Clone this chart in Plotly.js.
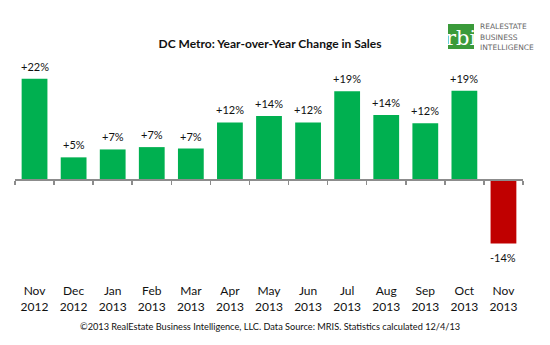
<!DOCTYPE html>
<html>
<head>
<meta charset="utf-8">
<script src="https://cdn.plot.ly/plotly-3.0.1.min.js"></script>
<style>html,body{margin:0;padding:0;background:#fff;}#chart{width:550px;height:345px;}</style>
</head>
<body>
<div id="chart"></div>
<script>
const months = ["Nov","Dec","Jan","Feb","Mar","Apr","May","Jun","Jul","Aug","Sep","Oct","Nov"];
const years = ["2012","2012","2013","2013","2013","2013","2013","2013","2013","2013","2013","2013","2013"];
const changePct = [21.8, 4.9, 6.6, 7.1, 6.8, 12.4, 13.8, 12.4, 19.1, 14.0, 12.2, 19.2, -13.6];

const FONT = "Lato, 'Open Sans', sans-serif";
const W = 550, H = 345, L = 15, R = 27, T = 60, B = 67;
const yMin = -21, yMax = 25.8;
const px = x => (x - L) / (W - L - R);
const py = y => (H - B - y) / (H - T - B);

const idx = months.map((m, i) => i);
const labels = changePct.map(v => (v >= 0 ? "+" : "") + Math.round(v) + "%");
const colors = changePct.map(v => v >= 0 ? "#00B050" : "#C00000");
const tickText = months.map((m, i) => m + "<br>" + years[i]);

const traces = [
  {
    type: "bar", x: idx, y: changePct, width: 0.66,
    marker: {color: colors, line: {width: 0}},
    textposition: "none", hoverinfo: "skip"
  },
  {type: "scatter", x: [-0.5, 12.5], y: [0, 0], xaxis: "x2", mode: "lines",
   line: {width: 0, color: "rgba(0,0,0,0)"}, hoverinfo: "skip", showlegend: false}
];

const valueLabels = changePct.map((v, i) => ({
  text: labels[i], x: idx[i], y: v, xref: "x", yref: "y",
  xanchor: "center", yanchor: v >= 0 ? "bottom" : "top",
  yshift: v >= 0 ? 4 : -5, showarrow: false,
  font: {family: FONT, size: 11, color: "#111"}
}));

const layout = {
  width: W, height: H,
  margin: {l: L, r: R, t: T, b: B, pad: 0},
  paper_bgcolor: "#fff", plot_bgcolor: "#fff",
  showlegend: false,
  font: {family: FONT, color: "#111"},
  xaxis: {
    range: [-0.5, 12.5], autorange: false, fixedrange: true,
    tickvals: idx, ticktext: tickText, ticks: "", ticklabelstandoff: 4,
    showgrid: false, zeroline: false, showline: false,
    tickfont: {family: FONT, size: 12, color: "#111"}
  },
  xaxis2: {
    overlaying: "x", anchor: "free", position: (0 - yMin) / (yMax - yMin),
    range: [-0.5, 12.5], autorange: false, fixedrange: true,
    tickvals: idx.map(i => i - 0.5).concat([12.5]),
    ticks: "outside", ticklen: 4, tickwidth: 1.5, tickcolor: "#8c8c8c",
    showticklabels: false, showgrid: false, zeroline: false,
    showline: true, linecolor: "#8c8c8c", linewidth: 2
  },
  yaxis: {
    range: [yMin, yMax], autorange: false, fixedrange: true,
    visible: false, showgrid: false, zeroline: false
  },
  title: {
    text: "<b>DC Metro: Year-over-Year Change in Sales</b>",
    x: px(270), xref: "paper", xanchor: "center",
    y: 1 - 44 / H, yref: "container", yanchor: "middle",
    font: {family: FONT, size: 12, color: "#111"}
  },
  shapes: [
    {type: "rect", xref: "paper", yref: "paper",
     x0: px(448), x1: px(474), y0: py(49), y1: py(24),
     fillcolor: "#3a9a3a", line: {width: 0}, layer: "above"}
  ],
  annotations: valueLabels.concat([
    {text: "rbi", xref: "paper", yref: "paper", x: px(461), y: py(38),
     xanchor: "center", yanchor: "middle", showarrow: false,
     font: {family: "'DejaVu Serif', serif", size: 21, color: "#fff"}},
    {text: "REALESTATE", xref: "paper", yref: "paper", x: px(478), y: py(27),
     xanchor: "left", yanchor: "middle", showarrow: false,
     font: {family: "'DejaVu Sans', sans-serif", size: 7.5, color: "#666"}},
    {text: "BUSINESS", xref: "paper", yref: "paper", x: px(478), y: py(37),
     xanchor: "left", yanchor: "middle", showarrow: false,
     font: {family: "'DejaVu Sans', sans-serif", size: 7.5, color: "#666"}},
    {text: "INTELLIGENCE", xref: "paper", yref: "paper", x: px(478), y: py(47),
     xanchor: "left", yanchor: "middle", showarrow: false,
     font: {family: "'DejaVu Sans', sans-serif", size: 7.5, color: "#666"}},
    {text: "©2013 RealEstate Business Intelligence, LLC. Data Source: MRIS. Statistics calculated 12/4/13",
     xref: "paper", yref: "paper", x: px(270), y: py(326),
     xanchor: "center", yanchor: "middle", showarrow: false,
     font: {family: FONT, size: 9.2, color: "#111"}}
  ])
};

Plotly.newPlot("chart", traces, layout, {displayModeBar: false, staticPlot: true});
</script>
</body>
</html>
